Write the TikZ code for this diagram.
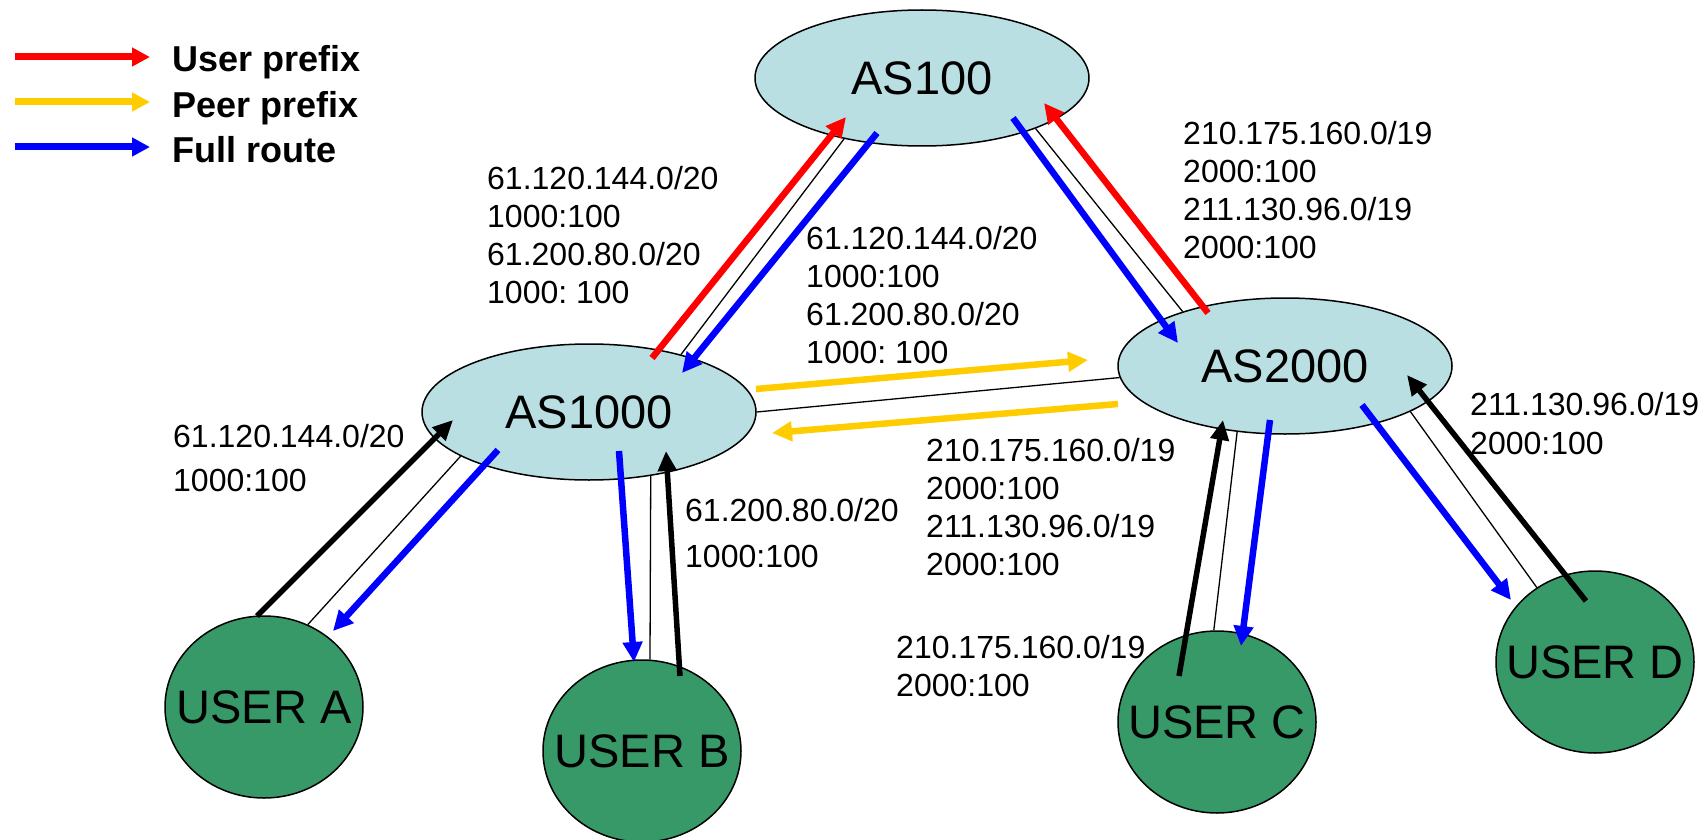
\documentclass[tikz,border=0pt]{standalone}
\usepackage{fontspec}
\setmainfont{Liberation Sans}
\usetikzlibrary{arrows.meta,shapes.geometric}
\definecolor{asfill}{RGB}{185,223,227}
\definecolor{userfill}{RGB}{56,153,104}
\definecolor{peerylw}{RGB}{255,204,0}
\definecolor{fullblue}{RGB}{0,0,255}
\definecolor{userred}{RGB}{255,0,0}
\frenchspacing
\begin{document}
\begin{tikzpicture}[x=1pt, y=-1pt,
  asnode/.style={ellipse, draw=black, line width=1.5pt, fill=asfill,
    minimum width=334pt, minimum height=136pt, inner sep=0pt,
    font=\fontsize{47}{56}\selectfont},
  usernode/.style={ellipse, draw=black, line width=1.5pt, fill=userfill,
    minimum width=198pt, minimum height=182pt, inner sep=0pt,
    font=\fontsize{47}{56}\selectfont},
  link/.style={line width=1.3pt, draw=black},
  route/.style={line width=6.5pt, -{Triangle[length=20pt,width=19pt]}},
  userpfx/.style={route, draw=userred},
  peerpfx/.style={route, draw=peerylw},
  fullrt/.style={route, draw=fullblue},
  custpfx/.style={line width=5.5pt, draw=black, -{Triangle[length=20pt,width=18pt]}},
  legarrow/.style={line width=7pt, -{Triangle[length=18pt,width=18pt]}},
  legtext/.style={anchor=base west, inner sep=0pt, font=\fontsize{36}{43}\selectfont\bfseries},
  pfxlabel/.style={anchor=north west, inner sep=0pt, align=left, font=\fontsize{32}{38}\selectfont},
]
\fill[white] (0,0) rectangle (1706,840);
\useasboundingbox (0,0) rectangle (1706,840);

% legend
\coordinate (lg1a) at (15,57);  \coordinate (lg1b) at (150,57);
\coordinate (lg2a) at (15,102); \coordinate (lg2b) at (150,102);
\coordinate (lg3a) at (15,147); \coordinate (lg3b) at (150,147);
\draw[legarrow, draw=userred] (lg1a) -- (lg1b);
\draw[legarrow, draw=peerylw] (lg2a) -- (lg2b);
\draw[legarrow, draw=fullblue] (lg3a) -- (lg3b);
\node[legtext] (lgt1) at (172,72) {User prefix};
\node[legtext] (lgt2) at (172,118) {Peer prefix};
\node[legtext] (lgt3) at (172,163) {Full route};

% autonomous systems and users
\node[asnode] (as100)  at (922,78)  {\makebox[0pt]{AS100}};
\node[asnode] (as1000) at (589,412) {\makebox[0pt]{AS1000}};
\node[asnode] (as2000) at (1285,366) {\makebox[0pt]{AS2000}};
\node[usernode] (ua) at (264,707)  {\makebox[0pt]{USER A}};
\node[usernode] (ub) at (642,751)  {\makebox[0pt]{USER B}};
\node[usernode] (uc) at (1217,722) {\makebox[0pt]{USER C}};
\node[usernode] (ud) at (1595,662) {\makebox[0pt]{USER D}};

% physical links
\draw[link] (as1000.32) -- (as100.218);
\draw[link] (as100.336) -- (as2000.152.6);
\draw[link] (as1000.east) -- (as2000.184.5);
\draw[link] (as1000.199.4) -- (ua.62);
\draw[link] (as1000.-46.4) -- (ub.85);
\draw[link] (as2000.234.5) -- (uc.92.5);
\draw[link] (as2000.-20.9) -- (ud.128.6);

% route announcements
\coordinate (r1a) at (652,358);  \coordinate (r1b) at (846,117);
\coordinate (b1a) at (877,133);  \coordinate (b1b) at (682,373);
\coordinate (b2a) at (1013,118); \coordinate (b2b) at (1178,343);
\coordinate (r2a) at (1208,313); \coordinate (r2b) at (1044,103);
\coordinate (y1a) at (756,389);  \coordinate (y1b) at (1088,360);
\coordinate (y2a) at (1118,404); \coordinate (y2b) at (772,433);
\coordinate (ka) at (257,616);   \coordinate (kab) at (453,420);
\coordinate (ba) at (498,450);   \coordinate (bab) at (333,631);
\coordinate (bb) at (619,451);   \coordinate (bbb) at (634,662);
\coordinate (kb) at (680,676);   \coordinate (kbb) at (666,451);
\coordinate (kc) at (1179,676);  \coordinate (kcb) at (1223,420);
\coordinate (bc) at (1270,420);  \coordinate (bcb) at (1241,646);
\coordinate (bd) at (1362,405);  \coordinate (bdb) at (1511,600);
\coordinate (kd) at (1586,601);  \coordinate (kdb) at (1407,375);

\draw[userpfx] (r1a) -- (r1b);
\draw[fullrt]  (b1a) -- (b1b);
\draw[fullrt]  (b2a) -- (b2b);
\draw[userpfx] (r2a) -- (r2b);
\draw[peerpfx] (y1a) -- (y1b);
\draw[peerpfx] (y2a) -- (y2b);
\draw[custpfx] (ka) -- (kab);
\draw[fullrt]  (ba) -- (bab);
\draw[fullrt]  (bb) -- (bbb);
\draw[custpfx] (kb) -- (kbb);
\draw[custpfx] (kc) -- (kcb);
\draw[fullrt]  (bc) -- (bcb);
\draw[fullrt]  (bd) -- (bdb);
\draw[custpfx] (kd) -- (kdb);

% prefix and community labels
\node[pfxlabel] (l1) at (487,166.5) {61.120.144.0/20\\1000:100\\61.200.80.0/20\\1000: 100};
\node[pfxlabel] (l2) at (806,226.5) {61.120.144.0/20\\1000:100\\61.200.80.0/20\\1000: 100};
\node[pfxlabel] (l3) at (1183,121.5) {210.175.160.0/19\\2000:100\\211.130.96.0/19\\2000:100};
\node[pfxlabel] (l4) at (926,438.5) {210.175.160.0/19\\2000:100\\211.130.96.0/19\\2000:100};
\node[pfxlabel, font=\fontsize{32}{44}\selectfont] (la) at (173,424.5) {61.120.144.0/20\\1000:100};
\node[pfxlabel, font=\fontsize{32}{46}\selectfont] (lb) at (685,498.5) {61.200.80.0/20\\1000:100};
\node[pfxlabel] (lc) at (896,635.5) {210.175.160.0/19\\2000:100};
\node[pfxlabel, font=\fontsize{32}{39}\selectfont] (ld) at (1470,392.5) {211.130.96.0/19\\2000:100};
\end{tikzpicture}
\end{document}
